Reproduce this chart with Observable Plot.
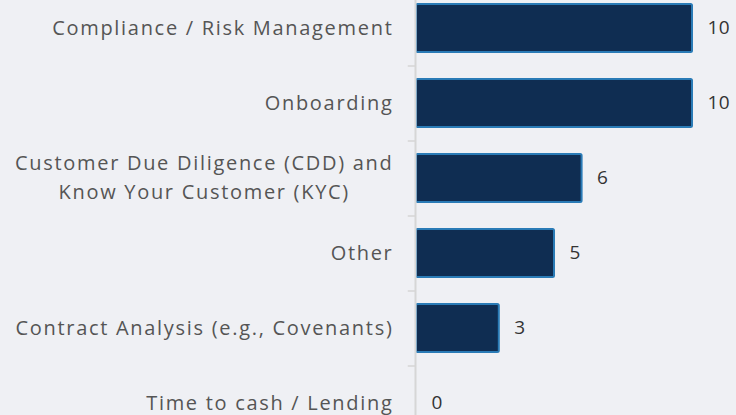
<!DOCTYPE html>
<html>
<head>
<meta charset="utf-8">
<script src="https://cdn.jsdelivr.net/npm/d3@7"></script>
<script src="https://cdn.jsdelivr.net/npm/@observablehq/plot@0.6"></script>
<style>
  html, body { margin: 0; padding: 0; background: #eff0f4; overflow: hidden; }
  svg { display: block; }
  .lbl text { letter-spacing: 1.7px; }
  .val text { letter-spacing: 0.3px; }
</style>
</head>
<body>
<div id="chart"></div>
<script>
const categories = [
  "Compliance / Risk Management",
  "Onboarding",
  "Customer Due Diligence (CDD) and\nKnow Your Customer (KYC)",
  "Other",
  "Contract Analysis (e.g., Covenants)",
  "Time to cash / Lending"
];
const values = [10, 10, 6, 5, 3, 0];

const data = categories.map((c, i) => ({category: c, value: values[i]}));
const font = "'Open Sans', 'Noto Sans', sans-serif";

const chart = Plot.plot({
  width: 736,
  height: 415,
  margin: 0,
  style: {background: "#eff0f4", fontFamily: font, overflow: "visible"},
  x: {domain: [0, 10], range: [416, 692], axis: null},
  y: {domain: categories, range: [-10, 440], paddingInner: 0.36, paddingOuter: 0.18, axis: null},
  marks: [
    Plot.barX(data, {y: "category", x: "value", fill: "#0f2d52", stroke: "#2a7bb6", strokeWidth: 2, rx: 1.5}),
    Plot.ruleY(categories.slice(0, -1), {y: d => d, dy: 37.5, x1: -0.3, x2: 0, stroke: "#d6d6d6", strokeWidth: 1.5}),
    Plot.ruleX([0], {dx: -1, stroke: "#d6d6d6", strokeWidth: 2}),
    Plot.text(data, {y: "category", x: 0, text: "category", dx: -23, dy: -3, textAnchor: "end", fontSize: 20, fill: "#555", lineHeight: 1.45, className: "lbl"}),
    Plot.text(data, {y: "category", x: "value", text: d => String(d.value), dx: 15, dy: -1, textAnchor: "start", fontSize: 19, fill: "#333", className: "val"})
  ]
});
document.getElementById("chart").appendChild(chart);

// center-align the lines of multi-line labels within their right-aligned block
chart.querySelectorAll(".lbl text").forEach(t => {
  const spans = t.querySelectorAll("tspan");
  if (spans.length < 2) return;
  const w = Math.max(...Array.from(spans, s => s.getComputedTextLength()));
  t.setAttribute("text-anchor", "middle");
  t.setAttribute("transform", (t.getAttribute("transform") || "") + ` translate(${-w / 2},0)`);
});
</script>
</body>
</html>
